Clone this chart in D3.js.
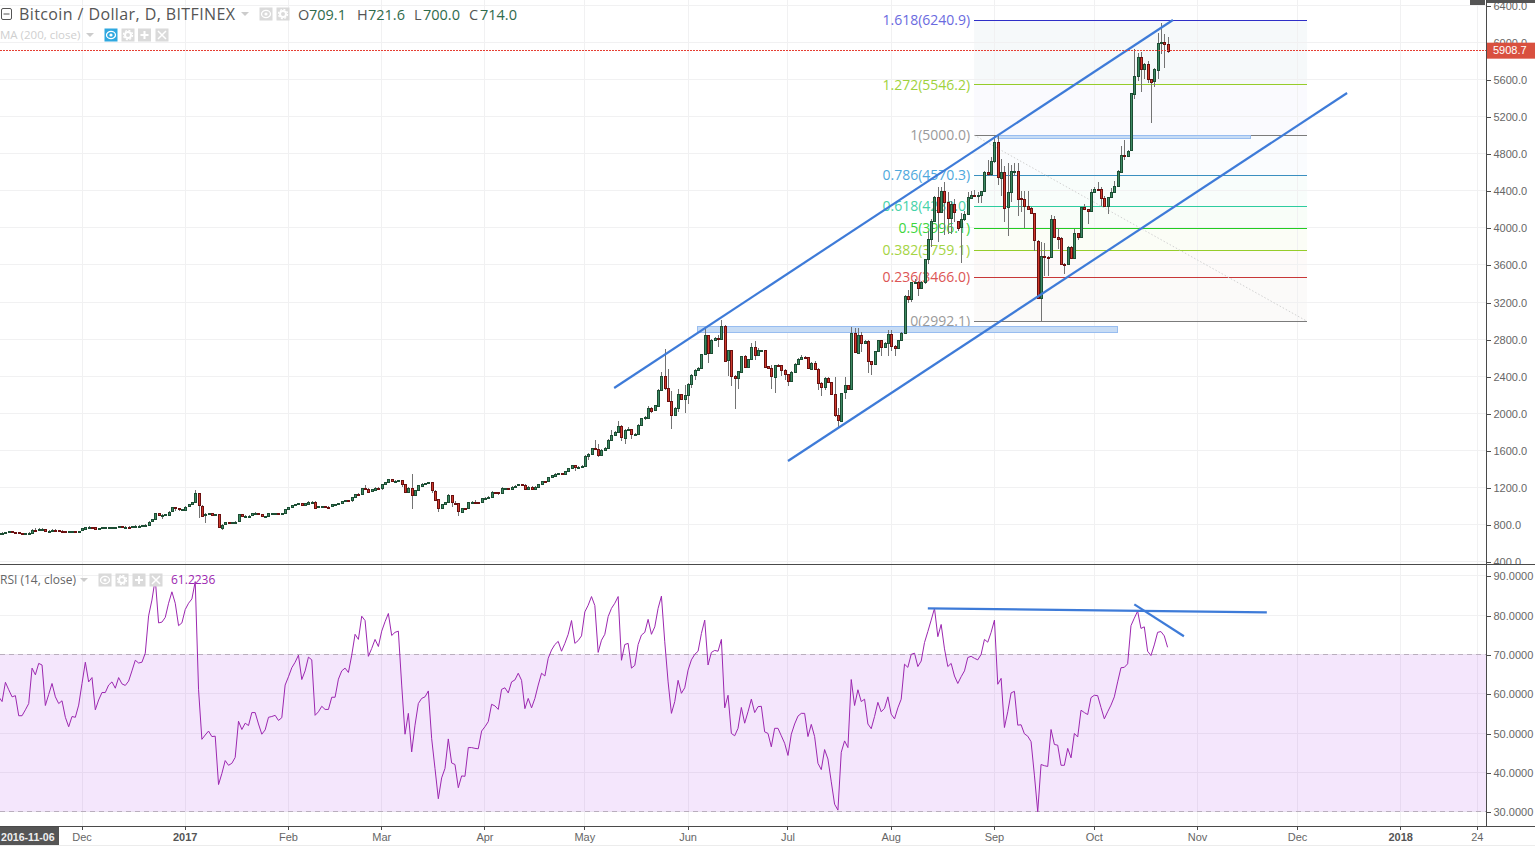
<!DOCTYPE html>
<html><head><meta charset="utf-8">
<script src="https://cdn.jsdelivr.net/npm/d3@7"></script>
<style>
html,body{margin:0;padding:0;background:#fff;overflow:hidden}
svg{display:block}
text{font-family:"Liberation Sans",Arial,sans-serif}
.leg{font-family:"Open Sans",sans-serif}
</style></head><body>
<script>
const opens=[706,710,710,717,728,717,714,706,703,706,
710,746,739,753,753,728,735,746,739,735,
732,724,728,728,724,732,757,775,775,768,
746,757,768,768,768,768,768,782,778,778,
775,782,789,789,793,800,832,854,919,901,
901,912,940,984,973,962,962,994,1020,1038,
1135,1002,894,908,922,897,908,771,800,822,
818,822,832,908,883,894,894,919,919,915,
890,890,919,919,919,908,919,962,984,1005,
1016,1027,1005,1027,1048,1048,984,
998,998,994,991,1016,1016,1030,1052,1059,1055,
1092,1124,1120,1189,1186,1153,1178,1196,1189,1232,
1257,1286,1261,1268,1279,1232,1146,1189,1110,1167,
1221,1239,1243,1254,1164,1070,973,1016,1038,1113,
1034,1027,937,976,973,1038,1045,1041,1034,1081,
1088,1099,1149,1146,1135,1189,1192,1189,1207,1218,
1232,1228,1185,1207,1189,1207,1236,1264,1261,1308,
1329,1347,1351,1344,1372,1405,1437,1412,1423,1434,
1538,1560,1621,1610,1545,1603,1621,1711,1761,1797,
1858,1736,1819,1826,1768,1776,1873,1947,1958,2062,
2030,2084,2253,2404,2271,2127,1976,2055,2206,2152,
2199,2318,2411,2469,2487,2638,2847,2649,2793,2811,
2800,2944,2570,2678,2397,2375,2451,2620,2498,2584,
2714,2624,2678,2685,2505,2487,2397,2523,2520,2469,
2422,2343,2444,2530,2588,2606,2602,2480,2541,2476,
2325,2282,2379,2332,2206,1976,1922,2224,2303,2260,
2865,2656,2847,2757,2775,2559,2530,2670,2786,2714,
2757,2854,2721,2703,2786,2865,3262,3233,3413,3417,
3348,3413,3665,3881,4072,4331,4169,4396,4277,4104,
4259,4079,4007,4097,4151,4331,4360,4352,4356,4396,
4601,4575,4719,4924,4547,4608,4223,4385,4612,4619,
4320,4312,4241,4212,4158,3863,3251,3701,3690,3683,
4097,3906,3888,3611,3608,3791,3672,3946,3899,4223,
4205,4180,4385,4421,4418,4320,4230,4331,4385,4450,
4611,4791,4780,4834,5450,5641,5846,5720,5770,5608,
5576,5709,5997,6008,5986];
const closes=[710,710,717,728,717,714,706,703,706,710,
746,739,753,753,728,735,746,739,735,732,
724,728,728,724,732,757,775,775,768,746,
757,768,768,768,768,768,782,778,778,775,
782,789,789,793,800,832,854,919,901,901,
912,940,984,973,962,962,994,1020,1038,1135,
1002,894,908,922,897,908,771,800,822,818,
822,832,908,883,894,894,919,919,915,890,
890,919,919,919,908,919,962,984,1005,1016,
1027,1005,1027,1048,1048,984,998,
998,994,991,1016,1016,1030,1052,1059,1055,1092,
1124,1120,1189,1186,1153,1178,1196,1189,1232,1257,
1286,1261,1268,1279,1232,1146,1189,1110,1167,1221,
1239,1243,1254,1164,1070,973,1016,1038,1113,1034,
1027,937,976,973,1038,1045,1041,1034,1081,1088,
1099,1149,1146,1135,1189,1192,1189,1207,1218,1232,
1228,1185,1207,1189,1207,1236,1264,1261,1308,1329,
1347,1351,1344,1372,1405,1437,1412,1423,1434,1538,
1560,1621,1610,1545,1603,1621,1711,1761,1797,1858,
1736,1819,1826,1768,1776,1873,1947,1958,2062,2030,
2084,2253,2404,2271,2127,1976,2055,2206,2152,2199,
2318,2411,2469,2487,2638,2847,2649,2793,2811,2800,
2944,2570,2678,2397,2375,2451,2620,2498,2584,2714,
2624,2678,2685,2505,2487,2397,2523,2520,2469,2422,
2343,2444,2530,2588,2606,2602,2480,2541,2476,2325,
2282,2379,2332,2206,1976,1922,2224,2303,2260,2865,
2656,2847,2757,2775,2559,2530,2670,2786,2714,2757,
2854,2721,2703,2786,2865,3262,3233,3413,3417,3348,
3413,3665,3881,4072,4331,4169,4396,4277,4104,4259,
4169,4007,4097,4151,4331,4360,4352,4356,4396,4601,
4575,4719,4924,4547,4608,4223,4385,4612,4619,4320,
4312,4241,4212,4158,3863,3251,3701,3690,3683,4097,
3906,3888,3611,3608,3791,3672,3946,3899,4223,4205,
4180,4385,4421,4418,4320,4230,4331,4385,4450,4611,
4791,4788,4834,5450,5641,5846,5720,5770,5608,5576,
5709,5997,6008,5986,5908.7];
const highs=[714,717,722,735,722,718,712,708,710,718,
750,762,757,757,753,739,750,750,742,736,
732,732,731,730,735,760,778,779,775,768,
761,770,772,771,770,772,785,783,782,780,
785,792,793,797,803,836,858,922,922,912,
916,944,988,990,975,968,997,1024,1042,1171,
1140,1005,920,926,925,912,910,804,826,824,
826,836,910,912,900,898,925,930,922,917,
895,922,923,923,921,922,965,988,1008,1020,
1030,1032,1030,1052,1052,1050,1002,
1002,1000,998,1020,1022,1034,1056,1064,1068,1096,
1128,1135,1192,1225,1190,1182,1200,1200,1236,1262,
1292,1290,1275,1283,1285,1240,1200,1344,1175,1226,
1243,1247,1258,1258,1170,1075,1022,1042,1125,1118,
1050,1030,980,982,1045,1055,1060,1045,1085,1092,
1104,1162,1155,1150,1205,1198,1195,1210,1222,1236,
1235,1232,1212,1210,1212,1242,1270,1268,1315,1335,
1352,1356,1358,1377,1410,1442,1440,1428,1440,1545,
1575,1628,1711,1668,1610,1632,1725,1819,1810,1916,
1870,1825,1850,1835,1785,1880,1950,1975,2075,2070,
2090,2265,2444,2692,2476,2235,2073,2267,2210,2307,
2325,2426,2476,2494,2638,2908,2847,2800,2822,2847,
3009,2955,2685,2678,2415,2451,2620,2624,2588,2757,
2775,2703,2685,2685,2512,2523,2523,2534,2523,2476,
2422,2451,2541,2595,2631,2613,2595,2548,2559,2483,
2332,2386,2386,2339,2386,2055,2224,2386,2307,2930,
2919,2919,2872,2786,2786,2559,2670,2793,2793,2764,
2901,2894,2739,2793,2879,3276,3334,3420,3449,3431,
3431,3665,3971,4097,4342,4439,4439,4500,4385,4295,
4313,4079,4162,4187,4385,4396,4414,4385,4396,4610,
4727,4760,4990,4996,4745,4665,4700,4683,4702,4700,
4396,4403,4403,4223,4158,3870,3845,3834,3700,4140,
4133,3996,3899,3625,3802,3802,3989,3946,4223,4259,
4205,4421,4439,4493,4439,4349,4331,4428,4511,4625,
4881,4953,4845,5460,5932,5889,5896,5774,5799,5608,
5727,6098,6213,6087,6062];
const lows=[704,706,712,715,712,706,700,698,703,706,
710,735,739,745,722,722,735,735,730,728,
720,722,724,720,722,730,757,768,764,742,
744,755,764,765,764,765,765,775,773,771,
775,780,785,787,792,798,828,852,895,858,
890,910,938,950,950,950,960,992,1018,1036,
865,895,818,902,890,893,764,739,795,810,
812,820,830,878,875,885,892,910,905,885,
882,888,915,915,902,905,918,958,980,1002,
1010,1000,1003,1025,1040,978,980,
990,990,985,988,1010,1012,1028,1048,1050,1048,
1088,1112,1118,1180,1140,1148,1175,1183,1170,1228,
1250,1255,1255,1262,1200,1140,1140,969,1105,1165,
1215,1232,1235,1135,1060,937,965,1010,1030,991,
1020,895,930,965,965,1030,1020,1020,1030,1075,
1085,1095,1130,1115,1130,1183,1182,1185,1205,1215,
1222,1170,1180,1185,1185,1205,1230,1255,1258,1300,
1315,1340,1338,1340,1365,1400,1380,1408,1418,1430,
1495,1555,1600,1531,1535,1595,1615,1705,1755,1790,
1703,1668,1810,1722,1750,1770,1865,1930,1955,2005,
2020,2075,2235,2253,2120,1828,1972,2019,2138,2001,
2098,2271,2361,2458,2487,2638,2541,2649,2786,2714,
2811,2550,2404,2296,2051,2267,2444,2487,2498,2577,
2577,2613,2667,2505,2476,2267,2217,2505,2397,2354,
2296,2343,2440,2523,2577,2591,2476,2476,2469,2253,
2188,2253,2325,2199,1965,1839,1922,2152,2253,2260,
2656,2649,2656,2750,2433,2415,2530,2667,2613,2703,
2613,2667,2613,2692,2786,2860,3190,3204,3406,3262,
3348,3400,3611,3791,4072,3852,4169,3924,3935,3935,
4061,3971,3618,4079,4151,4320,4349,4266,4270,4392,
4565,4560,4700,4460,4349,4068,3917,4277,4565,4133,
4169,3996,4205,4151,3755,3251,2992,3485,3485,3683,
3906,3773,3611,3503,3600,3672,3672,3870,3899,4198,
4043,4180,4378,4414,4234,4230,4151,4331,4385,4440,
4611,4730,4780,4830,5392,5583,5464,5601,5565,5133,
5518,5608,5878,5720,5882];
const rsiValues=[59.2,58.0,62.9,61.0,59.2,59.5,54.4,54.4,55.9,57.5,66.5,64.8,67.7,67.3,57.0,59.8,62.6,59.2,57.5,58.2,
54.0,51.6,54.2,54.0,57.1,62.6,68.0,63.0,64.1,55.9,58.4,60.3,60.3,62.2,63.0,61.4,64.1,62.5,62.1,63.2,
65.8,68.5,67.8,68.0,70.3,79.8,83.8,89.2,78.0,78.2,79.4,83.0,85.9,83.0,77.3,78.0,81.4,83.0,84.1,88.5,
61.0,48.4,49.5,50.5,49.1,49.2,36.9,39.7,43.0,41.8,42.3,43.8,53.0,50.9,52.5,51.9,55.2,55.2,52.3,49.7,
50.8,54.0,54.2,54.5,53.2,53.9,62.2,64.3,66.6,68.0,69.8,63.6,65.8,69.3,68.6,54.5,55.4,56.8,56.0,56.0,
59.1,59.1,63.7,65.8,66.5,65.4,69.8,75.1,73.8,79.7,78.6,69.5,71.5,73.8,72.0,75.9,78.3,80.4,74.8,75.6,
75.9,62.2,49.7,55.0,45.2,52.0,57.5,58.8,59.2,60.7,48.6,41.0,33.3,38.6,41.0,48.5,42.4,42.0,36.1,39.1,
39.0,46.3,46.3,46.1,46.0,50.5,51.6,52.9,57.3,56.9,56.0,61.1,61.5,60.2,63.0,63.5,65.2,63.4,56.2,58.8,
56.4,58.8,62.2,65.2,64.5,69.0,71.1,72.5,73.3,70.8,72.8,75.1,78.6,72.8,73.5,74.7,80.8,82.5,84.7,82.4,
70.5,73.6,75.1,79.6,81.7,83.0,84.7,68.5,72.5,72.8,66.5,67.2,72.5,74.9,75.6,78.9,75.1,77.0,81.7,84.8,
73.2,63.0,55.0,58.0,63.4,60.1,61.5,66.0,68.6,70.0,70.8,75.3,78.7,67.3,70.5,71.0,70.8,73.8,56.4,59.6,
49.9,49.3,51.2,56.5,52.5,55.4,58.6,55.2,56.7,56.8,50.3,49.9,46.5,51.2,51.2,49.3,47.4,44.3,49.7,52.3,
54.3,55.0,55.0,49.1,52.2,49.1,42.3,40.7,45.8,43.4,37.6,31.9,30.4,45.1,48.0,46.3,63.6,57.0,61.0,58.0,
58.6,52.3,51.1,54.2,57.8,55.4,56.3,59.2,54.8,53.6,56.4,58.6,67.5,66.7,70.0,70.3,66.9,68.3,73.0,75.8,
78.7,81.7,74.5,77.6,71.4,66.9,67.7,64.5,62.6,64.3,65.8,69.2,69.5,69.0,68.6,70.0,73.8,73.1,75.6,78.7,
62.4,63.9,51.4,55.4,60.2,60.6,52.0,52.1,49.8,49.2,47.8,39.3,30.0,42.0,41.7,41.5,50.9,47.1,46.9,41.8,
41.8,46.1,43.7,49.9,49.0,55.8,55.2,54.7,59.0,59.6,59.5,56.5,53.6,55.4,57.1,59.2,63.0,66.6,66.7,67.6,
77.3,79.2,81.0,76.6,77.0,70.8,69.7,72.4,75.6,75.8,74.7,71.8];

const priceTicks=[400,800,1200,1600,2000,2400,2800,3200,3600,4000,4400,4800,5200,5600,6000,6400];
const rsiTicks=[90,80,70,60,50,40,30];
const timeTickDates=["2016-12-01","2017-01-01","2017-02-01","2017-03-01","2017-04-01","2017-05-01","2017-06-01","2017-07-01","2017-08-01","2017-09-01","2017-10-01","2017-11-01","2017-12-01","2018-01-01","2018-01-24"];
const timeTickLabels=["Dec","2017","Feb","Mar","Apr","May","Jun","Jul","Aug","Sep","Oct","Nov","Dec","2018","24"];
const fibRatios=["1.618","1.272","1","0.786","0.618","0.5","0.382","0.236","0"];
const fibPrices=[6240.9,5546.2,5000.0,4570.3,4233.0,3996.1,3759.1,3466.0,2992.1];
const fibLine=["#2f2fc8","#96cc2a","#7b7b7b","#3a8fc0","#2dcc9f","#22cc22","#96cc2a","#c83737","#7b7b7b"];
const fibText=["#6a6ae0","#9fd23c","#9a9a9a","#4fa8dc","#45d2a8","#3dd63d","#a5d444","#dc5555","#9a9a9a"];
const fibBand=["#f6f9fa","#fafafe","#fafcfe","#f8fdfb","#f8fdf8","#fbfdf6","#fdfaf9","#fbfaf9"];
const fibBarRange=[292.9,392.9];
const channelUpper=[[184.8,2273],[352.6,6243]];
const channelLower=[[237,1485],[404.9,5455]];
const resistanceBoxes=[[209.7,336.1,2941,2866],[299.8,376,5000,4960]];
const rsiTrendFlat=[[279,81.7],[380.8,80.7]];
const rsiTrendDown=[[341,82.7],[355.9,74.6]];
const lastPrice=5908.7;
const legendOHLC=["O","709.1","H","721.6","L","700.0","C","714.0"];

const W=1535,H=846,axisX=1486,paneBottom=564,rsiBottom=826;
const startDay=new Date(Date.UTC(2016,10,6));
const x=d3.scaleLinear().domain([0,444]).range([-1.25,1477.3]);
const y=d3.scaleLinear().domain([800,6000]).range([524.5,42.5]);
const r=d3.scaleLinear().domain([30,90]).range([811.7,575.7]);
const dayIndex=s=>d3.utcDay.count(startDay,new Date(s+"T00:00:00Z"));
const svg=d3.select("body").append("svg").attr("width",W).attr("height",H);
const defs=svg.append("defs");
defs.append("clipPath").attr("id","cp").append("rect").attr("width",axisX).attr("height",paneBottom);
defs.append("clipPath").attr("id","cr").append("rect").attr("y",paneBottom).attr("width",axisX).attr("height",rsiBottom-paneBottom);
defs.append("clipPath").attr("id","ca").append("rect").attr("x",axisX).attr("width",W-axisX).attr("height",paneBottom);

const crisp=v=>Math.floor(v)+0.5;
const grid="#f1f1f2";
// gridlines
const gg=svg.append("g").attr("stroke",grid).attr("shape-rendering","crispEdges");
const tIdx=timeTickDates.map(dayIndex);
gg.selectAll(".v").data(tIdx).join("line").attr("x1",d=>crisp(x(d))).attr("x2",d=>crisp(x(d))).attr("y1",0).attr("y2",rsiBottom);
gg.selectAll(".h").data(priceTicks).join("line").attr("x1",0).attr("x2",axisX).attr("y1",d=>crisp(y(d))).attr("y2",d=>crisp(y(d)));
gg.selectAll(".hr").data(rsiTicks).join("line").attr("x1",0).attr("x2",axisX).attr("y1",d=>crisp(r(d))).attr("y2",d=>crisp(r(d)));

// fibonacci
const main=svg.append("g").attr("clip-path","url(#cp)");
const fx0=x(fibBarRange[0]),fx1=x(fibBarRange[1]);
main.selectAll(".band").data(fibBand).join("rect")
 .attr("x",fx0).attr("width",fx1-fx0)
 .attr("y",(d,i)=>y(fibPrices[i])).attr("height",(d,i)=>y(fibPrices[i+1])-y(fibPrices[i]))
 .attr("fill",d=>d);
main.selectAll(".gv").data(tIdx.filter(d=>x(d)>fx0&&x(d)<fx1)).join("line").attr("stroke",grid).attr("shape-rendering","crispEdges")
 .attr("x1",d=>crisp(x(d))).attr("x2",d=>crisp(x(d))).attr("y1",y(fibPrices[0])).attr("y2",y(fibPrices[8]));
main.selectAll(".gh").data(priceTicks.filter(p=>p<fibPrices[0]&&p>fibPrices[8])).join("line").attr("stroke",grid).attr("shape-rendering","crispEdges")
 .attr("x1",fx0).attr("x2",fx1).attr("y1",d=>crisp(y(d))).attr("y2",d=>crisp(y(d)));
main.selectAll(".fl").data(fibPrices).join("line").attr("x1",fx0).attr("x2",fx1)
 .attr("y1",d=>crisp(y(d))).attr("y2",d=>crisp(y(d))).attr("stroke",(d,i)=>fibLine[i]).attr("shape-rendering","crispEdges");
main.selectAll(".ft").data(fibPrices).join("text").attr("class","leg")
 .attr("x",fx0-4).attr("y",d=>y(d)+5).attr("text-anchor","end").attr("font-size",14)
 .attr("fill",(d,i)=>fibText[i]).text((d,i)=>fibRatios[i]+"("+d.toFixed(1)+")");
main.append("line").attr("x1",fx0).attr("x2",fx1).attr("y1",y(fibPrices[2])).attr("y2",y(fibPrices[8]))
 .attr("stroke","#d2d2d2").attr("stroke-dasharray","1.5 2");

// boxes
main.selectAll(".box").data(resistanceBoxes).join("rect")
 .attr("x",d=>x(d[0])).attr("width",d=>x(d[1])-x(d[0])).attr("y",d=>y(d[2])).attr("height",d=>y(d[3])-y(d[2]))
 .attr("fill","#c7dcf5").attr("stroke","#98bdf0").attr("shape-rendering","crispEdges");

// candles
const bars=d3.range(closes.length);
const cg=main.append("g").attr("shape-rendering","crispEdges");
cg.selectAll(".w").data(bars).join("line").attr("x1",i=>Math.round(x(i))+0.5).attr("x2",i=>Math.round(x(i))+0.5)
 .attr("y1",i=>y(highs[i])).attr("y2",i=>y(lows[i])).attr("stroke","#737373");
cg.selectAll(".b").data(bars).join("rect")
 .attr("x",i=>Math.round(x(i))-0.5).attr("width",2)
 .attr("y",i=>Math.round(y(Math.max(opens[i],closes[i])))+0.5)
 .attr("height",i=>Math.max(1,Math.round(Math.abs(y(opens[i])-y(closes[i])))))
 .attr("fill",i=>closes[i]>=opens[i]?"#3d8a63":"#cf3a2c")
 .attr("stroke",i=>closes[i]>=opens[i]?"#1c4d33":"#6b1010");

// channels
const pline=d3.line().x(d=>x(d[0])).y(d=>y(d[1]));
main.selectAll(".ch").data([channelUpper,channelLower]).join("path").attr("d",pline)
 .attr("fill","none").attr("stroke","#3e7bd8").attr("stroke-width",2.2);

// last price line
svg.append("line").attr("x1",0).attr("x2",axisX).attr("y1",crisp(y(lastPrice))).attr("y2",crisp(y(lastPrice)))
 .attr("stroke","#e53f33").attr("stroke-dasharray","2 1").attr("shape-rendering","crispEdges");

// RSI
const rp=svg.append("g").attr("clip-path","url(#cr)");
rp.append("rect").attr("x",0).attr("width",axisX).attr("y",r(70)).attr("height",r(30)-r(70)).attr("fill","#9b1fe8").attr("opacity",0.11);
rp.selectAll(".d").data([70,30]).join("line").attr("x1",0).attr("x2",axisX).attr("y1",d=>crisp(r(d))).attr("y2",d=>crisp(r(d)))
 .attr("stroke","#b9aebd").attr("stroke-dasharray","5 4").attr("shape-rendering","crispEdges");
rp.append("path").datum(rsiValues).attr("fill","none").attr("stroke","#9c27b0").attr("stroke-width",1)
 .attr("d",d3.line().x((d,i)=>x(i)).y(d=>r(d)));
const rline=d3.line().x(d=>x(d[0])).y(d=>r(d[1]));
rp.selectAll(".rt").data([rsiTrendFlat,rsiTrendDown]).join("path").attr("d",rline)
 .attr("fill","none").attr("stroke","#3e7bd8").attr("stroke-width",2.2);

// frame
const fr=svg.append("g").attr("stroke","#4a4a4a").attr("shape-rendering","crispEdges");
fr.append("line").attr("x1",0).attr("x2",W).attr("y1",paneBottom+0.5).attr("y2",paneBottom+0.5);
fr.append("line").attr("x1",axisX+0.5).attr("x2",axisX+0.5).attr("y1",0).attr("y2",rsiBottom);
fr.append("line").attr("x1",0).attr("x2",W).attr("y1",rsiBottom+0.5).attr("y2",rsiBottom+0.5);

// right axes through d3-axis
const ga=svg.append("g").attr("clip-path","url(#ca)");
const styleAxis=g=>{g.select(".domain").remove();
 g.selectAll("line").attr("stroke","#4a4a4a").attr("shape-rendering","crispEdges");
 g.selectAll("text").attr("fill","#666").attr("font-size",11).attr("font-family",'"Liberation Sans",Arial,sans-serif');};
ga.append("g").attr("transform",`translate(${axisX+0.5},0.5)`)
 .call(d3.axisRight(y).tickValues(priceTicks).tickSize(4).tickPadding(3).tickFormat(d=>d.toFixed(1))).call(styleAxis);
svg.append("g").attr("transform",`translate(${axisX+0.5},0.5)`)
 .call(d3.axisRight(r).tickValues(rsiTicks).tickSize(4).tickPadding(3).tickFormat(d=>d.toFixed(4))).call(styleAxis);

// top-right clipped boxes
svg.append("rect").attr("x",1470).attr("y",0).attr("width",15).attr("height",5).attr("fill","#555");
svg.append("rect").attr("x",axisX+1).attr("y",0).attr("width",W-axisX-1).attr("height",3).attr("fill","#555");

// last price label
svg.append("rect").attr("x",axisX+1).attr("y",y(lastPrice)-8.3).attr("width",W-axisX-1).attr("height",16).attr("fill","#d9503f");
svg.append("text").attr("x",axisX+7).attr("y",y(lastPrice)+3.5).attr("fill","#fff").attr("font-size",11).text(lastPrice.toFixed(1));

// time axis
const tg=svg.append("g");
tg.selectAll("line").data(tIdx).join("line").attr("x1",d=>crisp(x(d))).attr("x2",d=>crisp(x(d))).attr("y1",rsiBottom).attr("y2",rsiBottom+4)
 .attr("stroke","#4a4a4a").attr("shape-rendering","crispEdges");
tg.selectAll("text").data(tIdx).join("text").attr("x",d=>x(d)).attr("y",840.5).attr("text-anchor","middle")
 .attr("font-size",11).attr("fill",(d,i)=>/^\d{4}$/.test(timeTickLabels[i])?"#555":"#666")
 .attr("font-weight",(d,i)=>/^\d{4}$/.test(timeTickLabels[i])?"bold":"normal").text((d,i)=>timeTickLabels[i]);
svg.append("rect").attr("x",0).attr("y",rsiBottom+1).attr("width",59).attr("height",18).attr("fill","#555");
svg.append("text").attr("x",1).attr("y",840.5).attr("font-size",10.6).attr("font-weight","bold").attr("fill","#eee").text("2016-11-06");
svg.append("rect").attr("x",0).attr("y",845).attr("width",W).attr("height",1).attr("fill","#ececec");

// legend icons
function iconBox(cx,cy,kind,fill){
 const g=svg.append("g").attr("transform",`translate(${cx},${cy})`);
 g.append("rect").attr("x",-6.5).attr("y",-6.5).attr("width",13).attr("height",13).attr("fill",fill||"#dadada");
 const c="#fff";
 if(kind==="eye"){g.append("ellipse").attr("rx",4.5).attr("ry",3.6).attr("fill","none").attr("stroke",c).attr("stroke-width",1.3);g.append("circle").attr("r",1.6).attr("fill",c);}
 if(kind==="gear"){g.append("circle").attr("r",3).attr("fill","none").attr("stroke",c).attr("stroke-width",2);
   g.append("circle").attr("r",4.6).attr("fill","none").attr("stroke",c).attr("stroke-width",1.2).attr("stroke-dasharray","2 1.6");}
 if(kind==="plus"){g.append("path").attr("d","M-4 0H4M0 -4V4").attr("stroke",c).attr("stroke-width",2);}
 if(kind==="x"){g.append("path").attr("d","M-4 -4L4 4M4 -4L-4 4").attr("stroke",c).attr("stroke-width",1.5);}
}
const caret=(cx,cy,f)=>svg.append("path").attr("d",`M${cx-4} ${cy-2}h8l-4 4z`).attr("fill",f||"#ccc");

// header legend
svg.append("rect").attr("x",1.5).attr("y",8.5).attr("width",10).attr("height",11).attr("rx",1.5).attr("fill","none").attr("stroke","#555");
svg.append("line").attr("x1",3.5).attr("x2",9.5).attr("y1",14).attr("y2",14).attr("stroke","#555");
svg.append("text").attr("class","leg").attr("x",19).attr("y",19.5).attr("font-size",16).attr("letter-spacing",0.4).attr("fill","#555").text("Bitcoin / Dollar, D, BITFINEX");
caret(245,14);
iconBox(266,14,"eye");iconBox(283,14,"gear");
svg.selectAll(".hd").data(legendOHLC).join("text").attr("class","leg").attr("y",19.5).attr("font-size",14.5)
 .attr("x",(d,i)=>[298,309,357,368,414,423,469,480][i]).attr("fill",(d,i)=>i%2?"#2f6b4c":"#555").text(d=>d);
svg.append("text").attr("class","leg").attr("x",0).attr("y",39).attr("font-size",11.5).attr("fill","#cfcfcf").text("MA (200, close)");
caret(90,35);
iconBox(111,35,"eye","#2fa8e0");iconBox(128,35,"gear");iconBox(144.5,35,"plus");iconBox(162,35,"x");
svg.append("text").attr("class","leg").attr("x",0).attr("y",584).attr("font-size",12).attr("fill","#666").text("RSI (14, close)");
caret(84,580);
iconBox(105,580,"eye");iconBox(122,580,"gear");iconBox(139,580,"plus");iconBox(156,580,"x");
svg.append("text").attr("class","leg").attr("x",171).attr("y",584).attr("font-size",12).attr("fill","#9c27b0").text("61.2236");
</script>
</body></html>
